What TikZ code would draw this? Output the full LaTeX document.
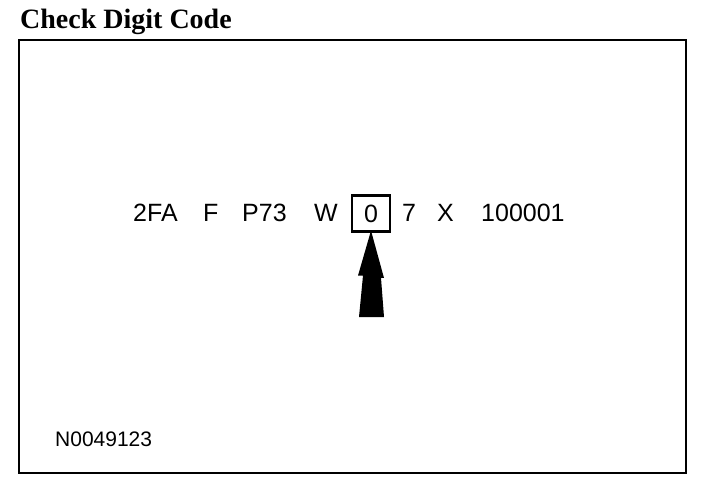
\documentclass[tikz,border=0pt]{standalone}
\usepackage{fontspec}
\setmainfont{Liberation Sans}
\newfontfamily\titlefont{Liberation Serif}
\tikzset{
  part/.style={anchor=base west, inner sep=0pt, font=\fontsize{25}{30}\selectfont},
  checkbox/.style={draw, line width=2.2pt, minimum width=38pt, minimum height=36pt, inner sep=0pt, font=\fontsize{25}{30}\selectfont}
}
\begin{document}
\begin{tikzpicture}[x=1pt,y=-1pt]
    \useasboundingbox (0,0) rectangle (704,486);

    % the title and the frame
    \node[anchor=base west, inner sep=0pt, font=\titlefont\bfseries\fontsize{28}{32}\selectfont] (title) at (20,29) {Check Digit Code};
    \draw[line width=2pt] (19,40) rectangle (686,473);

    % the parts of the number
    \node[part] (p1) at (133,222) {2FA};
    \node[part] (p2) at (203,222) {F};
    \node[part] (p3) at (242,222) {P73};
    \node[part] (p4) at (314,222) {W};
    \node[checkbox] (digit) at (371,213.5) {0};
    \node[part] (p6) at (402,222) {7};
    \node[part] (p7) at (437,222) {X};
    \node[part] (p8) at (481,222) {100001};

    % the arrow to the check digit
    \coordinate (tail) at (371.5,317);
    \fill ([yshift=2pt]digit.south) -- ++(-13,45) -- ++(5,0) -- (tail -| 359,0) -- (tail -| 384,0) -- ++(-3,-39) -- ++(3,0) -- cycle;

    % the figure number
    \node[anchor=base west, inner sep=0pt, font=\fontsize{21}{25}\selectfont] (fignum) at (55,446) {N0049123};

\end{tikzpicture}
\end{document}
